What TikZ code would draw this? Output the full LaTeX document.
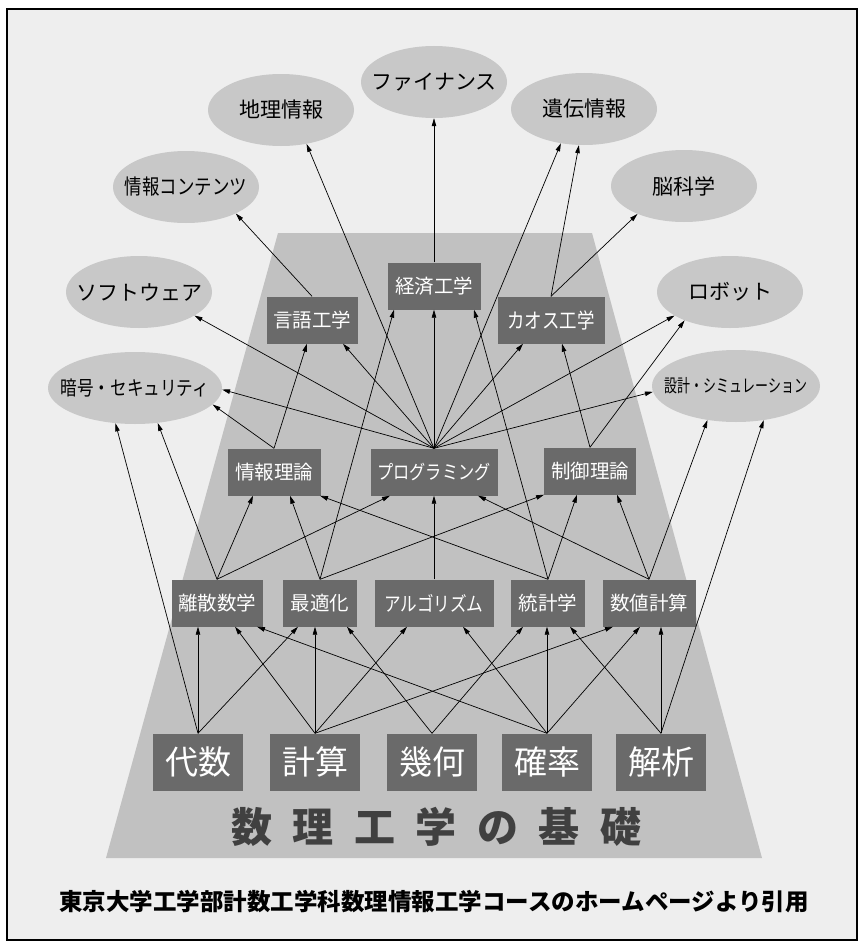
\documentclass[tikz,border=0pt]{standalone}
\usepackage{fontspec}
\setmainfont{Noto Sans CJK JP}
\newfontfamily\narrowfont[FakeStretch=0.83]{Noto Sans CJK JP}
\newfontfamily\slimfont[FakeStretch=0.72]{Noto Sans CJK JP}
\newfontfamily\titlefont[LetterSpace=50]{Noto Sans CJK JP}
\usetikzlibrary{shapes.geometric,arrows.meta}
\definecolor{papergray}{RGB}{238,238,238}
\definecolor{ovalgray}{RGB}{200,200,200}
\definecolor{basegray}{RGB}{193,193,193}
\definecolor{boxgray}{RGB}{106,106,106}
\newcommand\nowidth[1]{\makebox[0pt]{#1}}

\begin{document}
\begin{tikzpicture}[x=1pt, y=-1pt,
  field/.style={ellipse, fill=ovalgray, inner sep=0pt, minimum width=146pt, minimum height=72pt, font=\fontsize{21}{22}\selectfont},
  subj/.style={rectangle, fill=boxgray, text=white, inner sep=0pt, minimum height=47pt, font=\fontsize{19.5}{20}\selectfont},
  root/.style={rectangle, fill=boxgray, text=white, inner sep=0pt, minimum width=90pt, minimum height=57pt, font=\fontsize{33}{34}\selectfont},
  link/.style={-{Triangle[length=8pt,width=4.5pt]}, line width=0.7pt}]

\useasboundingbox (0,0) rectangle (858,942);
\fill[white] (0,0) rectangle (858,942);
\draw[line width=2pt, fill=papergray] (7,9) rectangle (857,940);
\fill[basegray] (278,233) -- (592,233) -- (762,858) -- (106,858) -- cycle;

\node[field] (chiri) at (281,110) {\nowidth{地理情報}};
\node[field] (finance) at (434,82) {\nowidth{ファイナンス}};
\node[field] (iden) at (584,109) {\nowidth{遺伝情報}};
\node[field, font=\narrowfont\fontsize{21}{22}\selectfont] (contents) at (186,187) {\nowidth{情報コンテンツ}};
\node[field] (nou) at (684,186) {\nowidth{脳科学}};
\node[field] (soft) at (139,292) {\nowidth{ソフトウェア}};
\node[field] (robot) at (730,292) {\nowidth{ロボット}};
\node[field, minimum width=174pt, font=\narrowfont\fontsize{20}{21}\selectfont] (ango) at (135,388) {\nowidth{暗号・セキュリティ}};
\node[field, minimum width=168pt, font=\slimfont\fontsize{18}{19}\selectfont] (sekkei) at (736,386) {\nowidth{設計・シミュレーション}};

\node[subj, minimum width=93pt] (keizai) at (434,286) {経済工学};
\node[subj, minimum width=91pt] (gengo) at (312,320) {言語工学};
\node[subj, minimum width=107pt, font=\narrowfont\fontsize{21}{22}\selectfont] (chaos) at (551,320) {カオス工学};
\node[subj, minimum width=93pt] (jouhou) at (274,472) {情報理論};
\node[subj, minimum width=127pt, font=\narrowfont\fontsize{19.5}{20}\selectfont] (prog) at (434,472) {プログラミング};
\node[subj, minimum width=92pt] (seigyo) at (590,471) {制御理論};
\node[subj, minimum width=91pt] (risan) at (217,603) {離散数学};
\node[subj, minimum width=74pt] (saiteki) at (320,603) {最適化};
\node[subj, minimum width=119pt, font=\narrowfont\fontsize{20}{21}\selectfont] (algo) at (434,603) {アルゴリズム};
\node[subj, minimum width=74pt] (toukei) at (548,603) {統計学};
\node[subj, minimum width=93pt] (suuchi) at (649,603) {数値計算};

\node[root] (daisu) at (198,762) {代数};
\node[root] (keisan) at (315,762) {計算};
\node[root] (kika) at (432,762) {幾何};
\node[root] (kakuritsu) at (547,762) {確率};
\node[root] (kaiseki) at (661,762) {解析};

\node[text=black!75, font=\titlefont\bfseries\fontsize{41}{44}\selectfont] (kiso) at (436,827) {数理工学の基礎};
\node[font=\bfseries\fontsize{23.5}{24}\selectfont] (source) at (434,902) {東京大学工学部計数工学科数理情報工学コースのホームページより引用};

\draw[link] (daisu.north) -- ([xshift=-19pt]risan.south);
\draw[link] (daisu.north) -- ([xshift=-22pt]saiteki.south);
\draw[link] (daisu.north) -- (ango.-119);
\draw[link] (keisan.north) -- ([xshift=18pt]risan.south);
\draw[link] (keisan.north) -- ([xshift=-5pt]saiteki.south);
\draw[link] (keisan.north) -- ([xshift=-27pt]algo.south);
\draw[link] (keisan.north) -- ([xshift=-36pt]suuchi.south);
\draw[link] (kika.north) -- ([xshift=27pt]saiteki.south);
\draw[link] (kika.north) -- ([xshift=-25pt]toukei.south);
\draw[link] (kakuritsu.north) -- ([xshift=40pt]risan.south);
\draw[link] (kakuritsu.north) -- ([xshift=29pt]algo.south);
\draw[link] (kakuritsu.north) -- ([xshift=-1pt]toukei.south);
\draw[link] (kakuritsu.north) -- ([xshift=-9pt]suuchi.south);
\draw[link] (kaiseki.north) -- ([xshift=22pt]toukei.south);
\draw[link] (kaiseki.north) -- ([xshift=12pt]suuchi.south);
\draw[link] (kaiseki.north) -- (sekkei.-51);

\draw[link] (risan.north) -- (ango.-57);
\draw[link] (risan.north) -- ([xshift=-21pt]jouhou.south);
\draw[link] (risan.north) -- ([xshift=-44pt]prog.south);
\draw[link] (saiteki.north) -- ([xshift=16pt]jouhou.south);
\draw[link] (saiteki.north) -- ([xshift=-40pt]keizai.south);
\draw[link] (saiteki.north) -- ([xshift=-46pt]seigyo.south);
\draw[link] (algo.north) -- (prog.south);
\draw[link] (toukei.north) -- ([xshift=46pt]jouhou.south);
\draw[link] (toukei.north) -- ([xshift=40pt]keizai.south);
\draw[link] (toukei.north) -- ([xshift=-13pt]seigyo.south);
\draw[link] (suuchi.north) -- ([xshift=44pt]prog.south);
\draw[link] (suuchi.north) -- ([xshift=27pt]seigyo.south);
\draw[link] (suuchi.north) -- (sekkei.-130);

\draw[link] (jouhou.north) -- (ango.-12);
\draw[link] (jouhou.north) -- ([xshift=-5pt]gengo.south);
\draw[link] (prog.north) -- (ango.-1);
\draw[link] (prog.north) -- (soft.-23);
\draw[link] (prog.north) -- ([xshift=31pt]gengo.south);
\draw[link] (prog.north) -- (chiri.-53);
\draw[link] (prog.north) -- (keizai.south);
\draw[link] (prog.north) -- (iden.-124);
\draw[link] (prog.north) -- ([xshift=-28pt]chaos.south);
\draw[link] (prog.north) -- (robot.-157);
\draw[link] (prog.north) -- (sekkei.-176);
\draw[link] (seigyo.north) -- ([xshift=11pt]chaos.south);
\draw[link] (seigyo.north) -- (robot.-148);

\draw[link] (gengo.north) -- (contents.-28);
\draw[link] (keizai.north) -- (finance.-90);
\draw[link] (chaos.north) -- (iden.-98);
\draw[link] (chaos.north) -- (nou.-149);

\end{tikzpicture}
\end{document}
